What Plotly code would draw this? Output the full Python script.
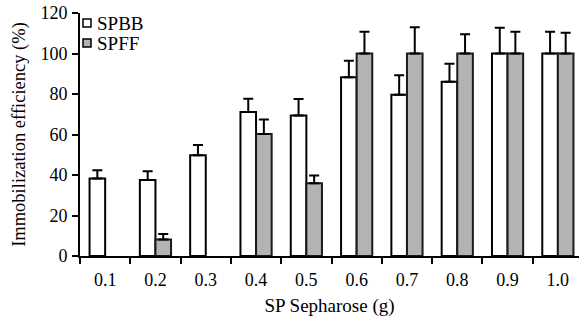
import plotly.graph_objects as go

categories = ["0.1", "0.2", "0.3", "0.4", "0.5", "0.6", "0.7", "0.8", "0.9", "1.0"]
spbb_values = [38.3, 37.5, 49.8, 71.1, 69.4, 88.3, 79.6, 86.0, 100.0, 100.0]
spbb_errors = [4.0, 4.3, 5.0, 6.6, 8.1, 8.1, 9.6, 9.0, 12.7, 10.8]
spff_values = [None, 8.2, None, 60.2, 35.9, 100.0, 100.0, 100.0, 100.0, 100.0]
spff_errors = [0, 2.7, 0, 7.2, 3.9, 10.8, 13.0, 9.5, 10.8, 10.3]
y_ticks = [0, 20, 40, 60, 80, 100, 120]
series_names = ["SPBB", "SPFF"]
series_fills = ["white", "#b3b3b3"]

FONT = "Liberation Serif, Times New Roman, serif"
zeros = [0] * len(categories)

fig = go.Figure()
fig.add_trace(go.Bar(
    x=categories, y=spbb_values, name=series_names[0], showlegend=False,
    marker=dict(color=series_fills[0], line=dict(color="black", width=2)),
    error_y=dict(type="data", array=spbb_errors, arrayminus=zeros, symmetric=False,
                 color="black", thickness=2, width=5),
))
fig.add_trace(go.Bar(
    x=categories, y=spff_values, name=series_names[1], showlegend=False,
    marker=dict(color=series_fills[1], line=dict(color="#1a1a1a", width=2)),
    error_y=dict(type="data", array=spff_errors, arrayminus=zeros, symmetric=False,
                 color="black", thickness=2, width=5),
))

# legend drawn as paper-positioned swatches and labels
W, H = 579, 320
ML, MR, MT, MB = 80, 0, 13, 64
PW, PH = W - ML - MR, H - MT - MB
shapes = []
annotations = []
for i, (name, fill) in enumerate(zip(series_names, series_fills)):
    cy = 23 + 20 * i  # pixel centre from top
    x0 = (83 - ML) / PW
    x1 = (91 - ML) / PW
    y0 = (H - MB - (cy + 4)) / PH
    y1 = (H - MB - (cy - 4)) / PH
    shapes.append(dict(type="rect", xref="paper", yref="paper", x0=x0, x1=x1, y0=y0, y1=y1,
                       fillcolor=fill, line=dict(color="black", width=1.5)))
    annotations.append(dict(text=name, xref="paper", yref="paper",
                            x=(95 - ML) / PW, y=(H - MB - cy) / PH,
                            xanchor="left", yanchor="middle", showarrow=False,
                            font=dict(size=19, family=FONT, color="black")))

fig.update_layout(
    width=W, height=H,
    margin=dict(l=ML, r=MR, t=MT, b=MB, autoexpand=False),
    paper_bgcolor="white", plot_bgcolor="white",
    font=dict(family=FONT, size=18, color="black"),
    barmode="group", bargap=0.38, bargroupgap=0,
    showlegend=False,
    shapes=shapes, annotations=annotations,
)
fig.update_xaxes(
    type="category", range=[-0.5, 9.42], automargin=False,
    showline=True, linecolor="black", linewidth=2,
    ticks="outside", tickson="boundaries", ticklen=6, tickwidth=2, tickcolor="black",
    ticklabelstandoff=6,
    showgrid=False, zeroline=False,
    tickfont=dict(size=18, family=FONT),
    title=dict(text="SP Sepharose (g)", font=dict(size=19, family=FONT), standoff=10),
)
fig.update_yaxes(
    range=[0, 120], tickvals=y_ticks, automargin=False,
    showline=True, linecolor="black", linewidth=2,
    ticks="outside", ticklen=6, tickwidth=2, tickcolor="black",
    ticklabelstandoff=1,
    showgrid=False, zeroline=False,
    tickfont=dict(size=18, family=FONT),
    title=dict(text="Immobilization efficiency (%)", font=dict(size=18.5, family=FONT), standoff=10),
)

fig.write_html("out.html", config={"displayModeBar": False},
               post_script="document.body.style.margin='0';")
